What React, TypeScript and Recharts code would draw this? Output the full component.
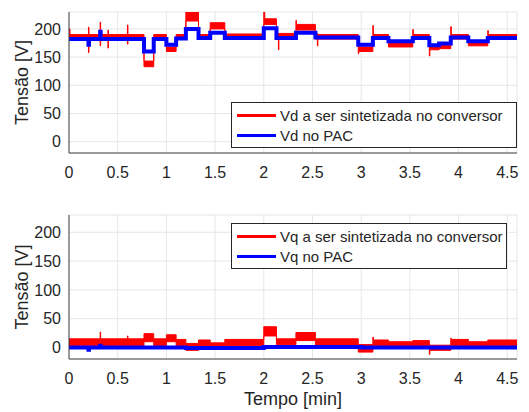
import { ComposedChart, Area, Line, XAxis, YAxis, CartesianGrid, Legend } from 'recharts';

// time axis, in minutes
const T_END = 4.6;
const xTicks = [0, 0.5, 1, 1.5, 2, 2.5, 3, 3.5, 4, 4.5];
const yTicks = [0, 50, 100, 150, 200];

// Vd a ser sintetizada no conversor (band low / high per segment)
const vdRedT = [0, 0.01, 0.2, 0.205, 0.32, 0.325, 0.4, 0.405, 0.6, 0.605, 0.77, 0.87, 1.0, 1.1, 1.2, 1.33, 1.45, 1.6, 2.0, 2.01, 2.13, 2.15, 2.155, 2.33, 2.335, 2.53, 2.55, 2.555, 2.97, 2.975, 3.12, 3.125, 3.28, 3.53, 3.535, 3.7, 3.705, 3.8, 3.92, 3.925, 4.1, 4.3, 4.305];
const vdRedLo = [182, 182, 158, 182, 170, 182, 166, 182, 173, 182, 133, 182, 160, 183, 214, 183, 200, 184, 208, 208, 184, 163, 184, 198, 198, 182, 170, 182, 156, 160, 182, 182, 168, 182, 182, 152, 163, 165, 182, 182, 170, 183, 183];
const vdRedHi = [200, 190, 203, 190, 212, 190, 198, 190, 207, 190, 143, 190, 168, 190, 230, 190, 211, 191, 230, 218, 192, 192, 192, 215, 208, 192, 192, 190, 168, 168, 206, 190, 175, 199, 190, 172, 170, 172, 204, 190, 177, 197, 190];

// Vd no PAC
const vdBlueT = [0, 0.2, 0.205, 0.32, 0.325, 0.77, 0.87, 1.0, 1.1, 1.2, 1.33, 1.45, 1.6, 2.0, 2.13, 2.33, 2.53, 2.97, 3.12, 3.28, 3.53, 3.7, 3.8, 3.92, 4.1, 4.3];
const vdBlueV = [182, 172, 182, 195, 182, 160, 182, 172, 183, 200, 184, 193, 184, 201, 184, 193, 185, 172, 184, 178, 184, 171, 174, 185, 178, 184];

// Vq a ser sintetizada no conversor
const vqRedT = [0, 0.32, 0.325, 0.6, 0.605, 0.77, 0.87, 1.0, 1.1, 1.2, 1.33, 1.45, 1.6, 2.0, 2.13, 2.33, 2.53, 2.97, 3.12, 3.125, 3.28, 3.53, 3.7, 3.705, 3.92, 3.925, 4.1, 4.3];
const vqRedLo = [3, 3, 3, 3, 3, 10, 3, 10, 3, -5, 2, -2, 3, 20, 5, 12, 3, -8, 3, 3, 0, 2, -12, -5, 3, 3, 0, 3];
const vqRedHi = [15, 27, 15, 20, 15, 24, 15, 22, 14, 7, 13, 8, 14, 36, 15, 26, 15, 5, 18, 13, 10, 12, 5, 4, 16, 14, 10, 13];

// Vq no PAC
const vqBlueT = [0, 0.2, 0.205, 0.32, 0.325, 1.2, 2.0, 3.0];
const vqBlueV = [0, -4, 0, 3, 0, -1, 1, 0];

function bandData(t: number[], lo: number[], hi: number[]) {
  const out: { x: number; band: number[] }[] = [];
  t.forEach((start, i) => {
    const stop = i + 1 < t.length ? t[i + 1] : T_END;
    out.push({ x: start, band: [lo[i], hi[i]] });
    out.push({ x: stop, band: [lo[i], hi[i]] });
  });
  return out;
}

function stepData(t: number[], v: number[]) {
  const out: { x: number; v: number }[] = [];
  t.forEach((start, i) => {
    const stop = i + 1 < t.length ? t[i + 1] : T_END;
    out.push({ x: start, v: v[i] });
    out.push({ x: stop, v: v[i] });
  });
  return out;
}

const FONT = '"Liberation Sans", Arial, sans-serif';
const TXT = '#262626';
const tick = { fontSize: 16, fill: TXT, fontFamily: FONT };

function YLabel(props: any) {
  const vb = props.viewBox;
  const cy = vb.y + vb.height / 2;
  return (
    <text x={22} y={cy} transform={`rotate(-90, 22, ${cy})`} textAnchor="middle" dominantBaseline="central" fontSize={18} fill={TXT} fontFamily={FONT}>
      Tensão [V]
    </text>
  );
}

function XLabel(props: any) {
  const vb = props.viewBox;
  return (
    <text x={vb.x + vb.width / 2} y={vb.y + vb.height + 16} textAnchor="middle" fontSize={18} fill={TXT} fontFamily={FONT}>
      Tempo [min]
    </text>
  );
}

function LegendBox(props: any) {
  const { payload } = props;
  return (
    <div style={{ boxSizing: 'border-box', width: '100%', whiteSpace: 'nowrap', border: '1px solid #262626', background: '#fff', padding: '2px 2px 2px 5px', fontFamily: FONT, fontSize: 15, color: TXT }}>
      {(payload || []).map((e: any) => (
        <div key={e.value} style={{ display: 'flex', alignItems: 'center', height: 20 }}>
          <span style={{ display: 'inline-block', flex: 'none', width: 39, height: 3, background: e.color, marginRight: 4 }} />
          <span>{e.value}</span>
        </div>
      ))}
    </div>
  );
}

function Panel(props: {
  height: number;
  margin: any;
  red: any[];
  blue: any[];
  redName: string;
  blueName: string;
  legendPos: { left: number; top: number; width: number };
  showXLabel?: boolean;
}) {
  return (
    <ComposedChart width={529} height={props.height} margin={props.margin}>
      <CartesianGrid stroke="#e6e6e6" />
      <XAxis
        dataKey="x"
        type="number"
        domain={[0, T_END]}
        ticks={xTicks}
        allowDataOverflow
        height={30}
        tick={tick}
        tickLine={false}
        tickSize={6}
        tickMargin={8}
        stroke="#404040"
        label={props.showXLabel ? { content: XLabel } : undefined}
      />
      <YAxis
        type="number"
        domain={[-20, 230]}
        ticks={yTicks}
        allowDataOverflow
        width={69}
        tick={tick}
        tickLine={false}
        tickSize={6}
        tickMargin={2}
        stroke="#404040"
        label={{ content: YLabel }}
      />
      <Area
        data={props.red}
        dataKey="band"
        name={props.redName}
        type="linear"
        stroke="#ff0000"
        strokeWidth={1}
        fill="#ff0000"
        fillOpacity={1}
        isAnimationActive={false}
      />
      <Line
        data={props.blue}
        dataKey="v"
        name={props.blueName}
        type="linear"
        stroke="#0000ff"
        strokeWidth={4}
        dot={false}
        isAnimationActive={false}
      />
      <Legend
        layout="horizontal"
        verticalAlign="middle"
        align="center"
        content={LegendBox}
        wrapperStyle={{ position: 'absolute', left: props.legendPos.left, top: props.legendPos.top, width: props.legendPos.width }}
      />
    </ComposedChart>
  );
}

export default function App() {
  return (
    <div style={{ position: 'absolute', left: 0, top: 0, width: 529, height: 412, background: '#fff' }}>
      <Panel
        height={200}
        margin={{ top: 12, right: 12, bottom: 17, left: 0 }}
        red={bandData(vdRedT, vdRedLo, vdRedHi)}
        blue={stepData(vdBlueT, vdBlueV)}
        redName="Vd a ser sintetizada no conversor"
        blueName="Vd no PAC"
        legendPos={{ left: 231, top: 102, width: 286 }}
      />
      <Panel
        height={212}
        margin={{ top: 15, right: 12, bottom: 23, left: 0 }}
        red={bandData(vqRedT, vqRedLo, vqRedHi)}
        blue={stepData(vqBlueT, vqBlueV)}
        redName="Vq a ser sintetizada no conversor"
        blueName="Vq no PAC"
        legendPos={{ left: 231, top: 23, width: 276 }}
        showXLabel
      />
    </div>
  );
}
